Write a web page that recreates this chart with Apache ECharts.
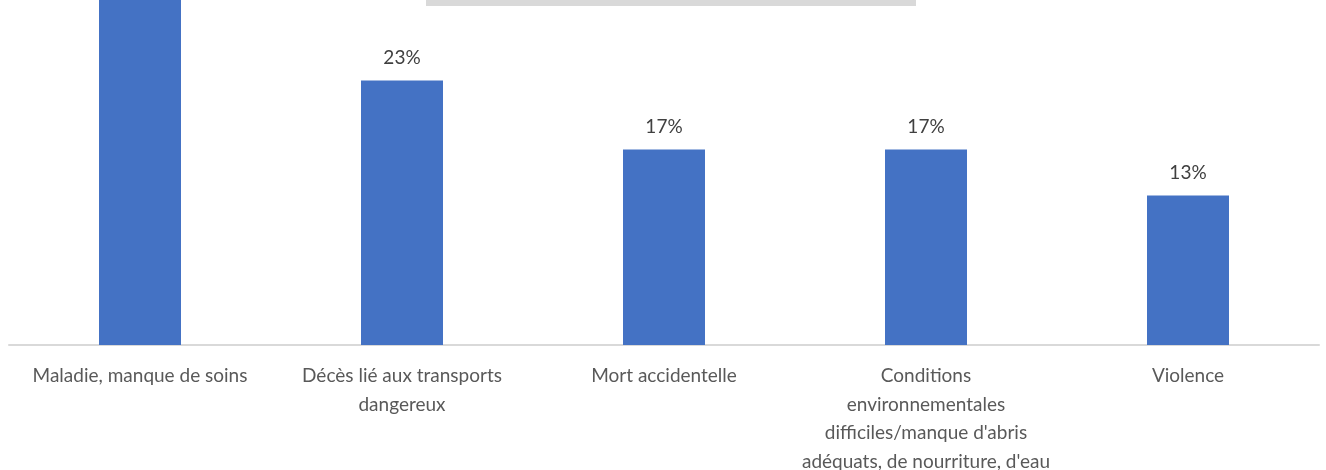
<!DOCTYPE html>
<html>
<head>
<meta charset="utf-8">
<script src="https://cdn.jsdelivr.net/npm/echarts@6/dist/echarts.min.js"></script>
<style>
html,body{margin:0;padding:0;background:#fff;}
#chart{width:1326px;height:470px;}
</style>
</head>
<body>
<div id="chart"></div>
<script>
const categories = [
  "Maladie, manque de soins",
  "Décès lié aux transports\ndangereux",
  "Mort accidentelle",
  "Conditions\nenvironnementales\ndifficiles/manque d'abris\nadéquats, de nourriture, d'eau",
  "Violence"
];
const values = [30, 23, 17, 17, 13];

const chart = echarts.init(document.getElementById('chart'));
chart.setOption({
  animation: false,
  grid: { left: 9, right: 7, top: 0, bottom: 125, containLabel: false, outerBoundsMode: 'none' },
  graphic: [{
    type: 'rect',
    shape: { x: 426, y: -10, width: 490, height: 16 },
    style: { fill: '#d9d9d9' },
    z: 10
  }],
  xAxis: {
    type: 'category',
    data: categories,
    axisLine: { show: true, lineStyle: { color: '#d9d9d9', width: 2 } },
    axisTick: { show: false },
    axisLabel: {
      interval: 0,
      color: '#595959',
      fontFamily: 'Lato',
      fontSize: 19,
      lineHeight: 28.5,
      margin: 17,
      verticalAlign: 'top'
    }
  },
  yAxis: {
    type: 'value',
    min: 0,
    max: 30,
    show: false,
    splitLine: { show: false }
  },
  series: [{
    type: 'bar',
    data: values,
    barWidth: 82,
    itemStyle: { color: '#4472c4' },
    label: {
      show: true,
      position: 'top',
      distance: 13,
      formatter: p => p.value + '%',
      color: '#404040',
      fontFamily: 'Lato',
      fontSize: 19
    }
  }]
});
</script>
</body>
</html>
